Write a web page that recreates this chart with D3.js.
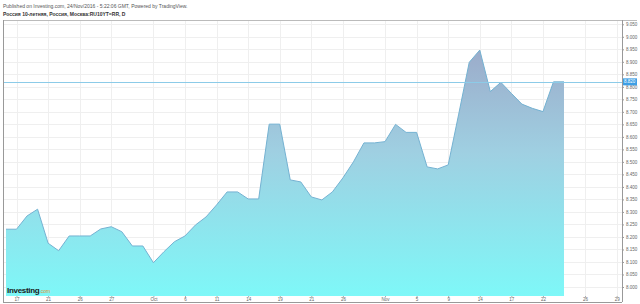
<!DOCTYPE html>
<html><head><meta charset="utf-8">
<script src="https://cdn.jsdelivr.net/npm/d3@7"></script>
<style>body{margin:0;background:#fff}svg{display:block}</style>
</head><body>
<svg id="c" width="640" height="304"></svg>
<script>
const values = [8.231,8.231,8.284,8.311,8.175,8.145,8.204,8.204,8.204,8.232,
8.241,8.221,8.164,8.164,8.097,8.141,8.181,8.204,8.248,8.280,
8.328,8.380,8.380,8.352,8.352,8.651,8.651,8.428,8.420,8.360,
8.348,8.380,8.436,8.500,8.576,8.576,8.581,8.650,8.618,8.618,
8.480,8.472,8.488,8.691,8.898,8.947,8.781,8.818,8.774,8.731,
8.714,8.701,8.820,8.820];
const lastValue = 8.820;
const xTickIdx = [1,4,7,10,14,17,20,23,26,29,32,36,39,42,45,48,51,55,58];
const xTickLabels = ["17","21","26","27","Oct","6","11","14","19","21","26","Nov","5","9","14","17","22","26","29"];
const yTicks = [8.000,8.050,8.100,8.150,8.200,8.250,8.300,8.350,8.400,8.450,8.500,8.550,8.600,8.650,8.700,8.750,8.800,8.850,8.900,8.950,9.000,9.050];
const title1 = "Published on Investing.com, 24/Nov/2016 - 5:22:06 GMT, Powered by TradingView.";
const title2 = "Россия 10-летняя, Россия, Москва:RU10YT=RR, D";

const svg = d3.select("#c");
const L = 3, R = 622, T = 20, B = 296, B2 = 302;
const x = d3.scaleLinear().domain([0, values.length - 1]).range([6, 564]);
const y = d3.scaleLinear().domain([8.0, 9.05]).range([287, 24.3]);

const defs = svg.append("defs");
const grad = defs.append("linearGradient").attr("id","g").attr("gradientUnits","userSpaceOnUse")
  .attr("x1",0).attr("x2",0).attr("y1",y(9.0)).attr("y2",B);
grad.append("stop").attr("offset",0).attr("stop-color","#9ba7c7");
grad.append("stop").attr("offset",0.45).attr("stop-color","#9fd0e2");
grad.append("stop").attr("offset",1).attr("stop-color","#7ef8f8");
defs.append("clipPath").attr("id","clip").append("rect").attr("x",L).attr("y",T).attr("width",R-L).attr("height",B-T);

// grid
const grid = svg.append("g").attr("clip-path","url(#clip)");
grid.selectAll(".h").data(yTicks).join("line")
  .attr("x1",L).attr("x2",R).attr("y1",d=>Math.round(y(d))+0.5).attr("y2",d=>Math.round(y(d))+0.5)
  .attr("stroke","#efefef");
grid.selectAll(".v").data(xTickIdx).join("line")
  .attr("y1",T).attr("y2",B).attr("x1",d=>Math.round(x(d))+0.5).attr("x2",d=>Math.round(x(d))+0.5)
  .attr("stroke","#efefef");

// area
const area = d3.area().x((d,i)=>x(i)).y0(B).y1(d=>y(d));
const line = d3.line().x((d,i)=>x(i)).y(d=>y(d));
svg.append("path").datum(values).attr("d",area).attr("fill","url(#g)");
svg.append("path").datum(values).attr("d",line).attr("fill","none").attr("stroke","#74b2d2").attr("stroke-width",1);

// last price line
svg.append("line").attr("x1",L).attr("x2",R).attr("y1",Math.round(y(lastValue))+0.5).attr("y2",Math.round(y(lastValue))+0.5)
  .attr("stroke","#8ccbe8").attr("stroke-width",1);

// y axis
const ya = svg.append("g").attr("transform",`translate(${R},0)`)
  .call(d3.axisRight(y).tickValues(yTicks).tickFormat(d3.format(".3f")).tickSize(2).tickPadding(2));
ya.select(".domain").remove();
ya.selectAll("text").attr("font-family","Arial, Liberation Sans, sans-serif").attr("font-size",4.5).attr("fill","#666");
ya.selectAll("line").attr("stroke","#999");

// highlight box
const hy = y(lastValue);
svg.append("rect").attr("x",R).attr("y",hy-3.5).attr("width",15).attr("height",7).attr("fill","#3d9fe6");
svg.append("text").attr("x",R+2).attr("y",hy+1.6).text(d3.format(".3f")(lastValue))
  .attr("font-family","Arial, Liberation Sans, sans-serif").attr("font-size",4.5).attr("fill","#fff");

// x axis
const xa = svg.append("g").attr("transform",`translate(0,${B})`)
  .call(d3.axisBottom(x).tickValues(xTickIdx).tickFormat((d,i)=>xTickLabels[i]).tickSize(1.5).tickPadding(0.5));
xa.select(".domain").remove();
xa.selectAll("text").attr("font-family","Arial, Liberation Sans, sans-serif").attr("font-size",4.5).attr("fill","#666");
xa.selectAll("line").attr("stroke","#aaa");

// frame
svg.append("line").attr("x1",L).attr("x2",637).attr("y1",T+0.5).attr("y2",T+0.5).attr("stroke","#bbb");
svg.append("line").attr("x1",L+0.5).attr("x2",L+0.5).attr("y1",T).attr("y2",B2).attr("stroke","#999");
svg.append("line").attr("x1",R+0.5).attr("x2",R+0.5).attr("y1",T).attr("y2",B2).attr("stroke","#999");
svg.append("line").attr("x1",L).attr("x2",R).attr("y1",B2+0.5).attr("y2",B2+0.5).attr("stroke","#999");

// titles
svg.append("text").attr("x",3).attr("y",7.5).text(title1)
  .attr("font-family","Arial, Liberation Sans, sans-serif").attr("font-size",5).attr("fill","#555");
svg.append("text").attr("x",3).attr("y",16).text(title2)
  .attr("font-family","Arial, Liberation Sans, sans-serif").attr("font-size",5).attr("font-weight","bold").attr("fill","#333");

// logo
const logo = svg.append("text").attr("x",7).attr("y",292.5)
  .attr("font-family","Arial, Liberation Sans, sans-serif").attr("font-weight","bold");
logo.append("tspan").text("Investing").attr("font-size",8).attr("fill","#1a1a1a").attr("letter-spacing",-0.3);
logo.append("tspan").text(".com").attr("font-size",5).attr("fill","#e0902a").attr("font-weight","normal");
</script>
</body></html>
